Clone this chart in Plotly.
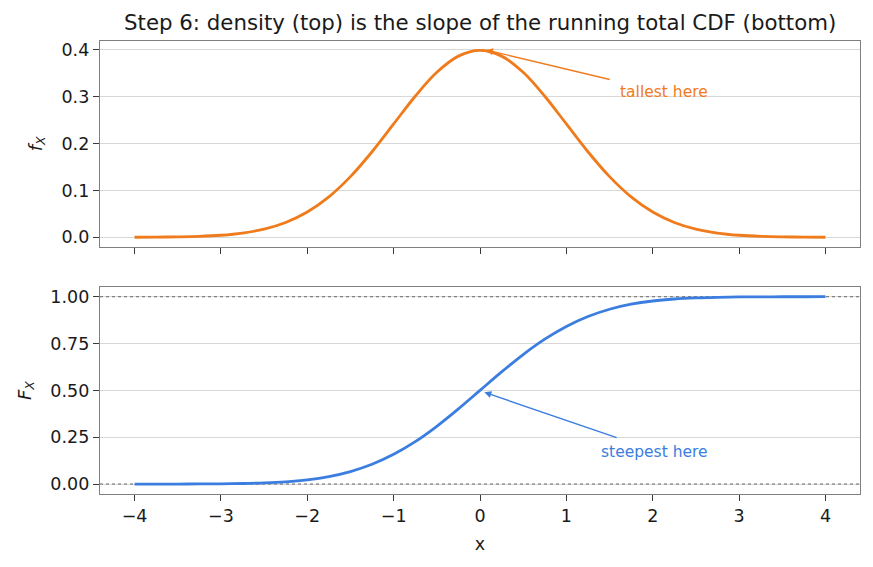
import plotly.graph_objects as go
from plotly.subplots import make_subplots

x_vals = [-4.0, -3.75, -3.5, -3.25, -3.0, -2.75, -2.5, -2.25, -2.0, -1.75, -1.5, -1.25, -1.0, -0.75, -0.5, -0.25,
          0.0, 0.25, 0.5, 0.75, 1.0, 1.25, 1.5, 1.75, 2.0, 2.25, 2.5, 2.75, 3.0, 3.25, 3.5, 3.75, 4.0]
pdf_vals = [0.0001, 0.0004, 0.0009, 0.0020, 0.0044, 0.0091, 0.0175, 0.0317, 0.0540, 0.0863, 0.1295, 0.1826,
            0.2420, 0.3011, 0.3521, 0.3867, 0.3989, 0.3867, 0.3521, 0.3011, 0.2420, 0.1826, 0.1295, 0.0863,
            0.0540, 0.0317, 0.0175, 0.0091, 0.0044, 0.0020, 0.0009, 0.0004, 0.0001]
cdf_vals = [0.0000, 0.0001, 0.0002, 0.0006, 0.0013, 0.0030, 0.0062, 0.0122, 0.0228, 0.0401, 0.0668, 0.1056,
            0.1587, 0.2266, 0.3085, 0.4013, 0.5000, 0.5987, 0.6915, 0.7734, 0.8413, 0.8944, 0.9332, 0.9599,
            0.9772, 0.9878, 0.9938, 0.9970, 0.9987, 0.9994, 0.9998, 0.9999, 1.0000]
x_ticks = [-4, -3, -2, -1, 0, 1, 2, 3, 4]
x_ticklabels = ["\u22124", "\u22123", "\u22122", "\u22121", "0", "1", "2", "3", "4"]
top_ticks = [0.0, 0.1, 0.2, 0.3, 0.4]
top_ticklabels = ["0.0", "0.1", "0.2", "0.3", "0.4"]
bottom_ticks = [0.0, 0.25, 0.5, 0.75, 1.0]
bottom_ticklabels = ["0.00", "0.25", "0.50", "0.75", "1.00"]
ref_levels = [0.0, 1.0]

ORANGE = "#f07b1c"
BLUE = "#3b7ee0"
FRAME = "#808080"
TEXT = "#1a1a1a"
FONT = "DejaVu Sans"

fig = make_subplots(rows=2, cols=1, shared_xaxes=True, vertical_spacing=0.089,
                    row_heights=[0.454, 0.457])

fig.add_trace(go.Scatter(x=x_vals, y=pdf_vals, mode="lines", line=dict(color=ORANGE, width=2.8, shape="spline"),
                         showlegend=False), row=1, col=1)
for lv in ref_levels:
    fig.add_trace(go.Scatter(x=[-4.4, 4.4], y=[lv, lv], mode="lines",
                             line=dict(color="#666666", width=1.1, dash="dot"), showlegend=False), row=2, col=1)
fig.add_trace(go.Scatter(x=x_vals, y=cdf_vals, mode="lines", line=dict(color=BLUE, width=2.8, shape="spline"),
                         showlegend=False), row=2, col=1)

axis_common = dict(showline=True, linecolor=FRAME, linewidth=1.4, mirror=True,
                   ticks="outside", ticklen=6, tickwidth=1.4, tickcolor="#3a3a3a",
                   tickfont=dict(family=FONT, size=17.5, color=TEXT), zeroline=False)

fig.update_xaxes(range=[-4.4, 4.4], tickvals=x_ticks, showgrid=False, **axis_common)
fig.update_xaxes(showticklabels=False, row=1, col=1)
fig.update_xaxes(ticktext=x_ticklabels,
                 title=dict(text="x", font=dict(family=FONT, size=17.5, color=TEXT), standoff=12), row=2, col=1)
fig.update_yaxes(range=[-0.02, 0.419], tickvals=top_ticks, ticktext=top_ticklabels,
                 showgrid=True, gridcolor="#d8d8d8", gridwidth=1,
                 title=dict(text="<i>f<sub>X</sub></i>", font=dict(family=FONT, size=18, color=TEXT), standoff=14),
                 row=1, col=1, **axis_common)
fig.update_yaxes(range=[-0.053, 1.052], tickvals=bottom_ticks, ticktext=bottom_ticklabels,
                 showgrid=True, gridcolor="#d8d8d8", gridwidth=1,
                 title=dict(text="<i>F<sub>X</sub></i>", font=dict(family=FONT, size=18, color=TEXT), standoff=14),
                 row=2, col=1, **axis_common)

# arrows
fig.add_annotation(x=0.07, y=0.4, ax=1.52, ay=0.336, xref="x", yref="y", axref="x", ayref="y",
                   text="", showarrow=True, arrowhead=2, arrowsize=1, arrowwidth=1.4, arrowcolor=ORANGE)
fig.add_annotation(x=1.6, y=0.31, xref="x", yref="y", text="tallest here", showarrow=False,
                   xanchor="left", yanchor="middle", font=dict(family=FONT, size=15.5, color=ORANGE))
fig.add_annotation(x=0.05, y=0.49, ax=1.6, ay=0.245, xref="x2", yref="y2", axref="x2", ayref="y2",
                   text="", showarrow=True, arrowhead=2, arrowsize=1, arrowwidth=1.4, arrowcolor=BLUE)
fig.add_annotation(x=1.38, y=0.17, xref="x2", yref="y2", text="steepest here", showarrow=False,
                   xanchor="left", yanchor="middle", font=dict(family=FONT, size=15.5, color=BLUE))

fig.update_layout(
    width=873, height=567,
    margin=dict(l=100, r=13, t=41, b=73),
    paper_bgcolor="white", plot_bgcolor="white",
    title=dict(text="Step 6: density (top) is the slope of the running total CDF (bottom)",
               x=0.55, xanchor="center", y=0.961, yanchor="middle",
               font=dict(family=FONT, size=21.3, color=TEXT)),
    font=dict(family=FONT),
)

fig.write_html("out.html")
